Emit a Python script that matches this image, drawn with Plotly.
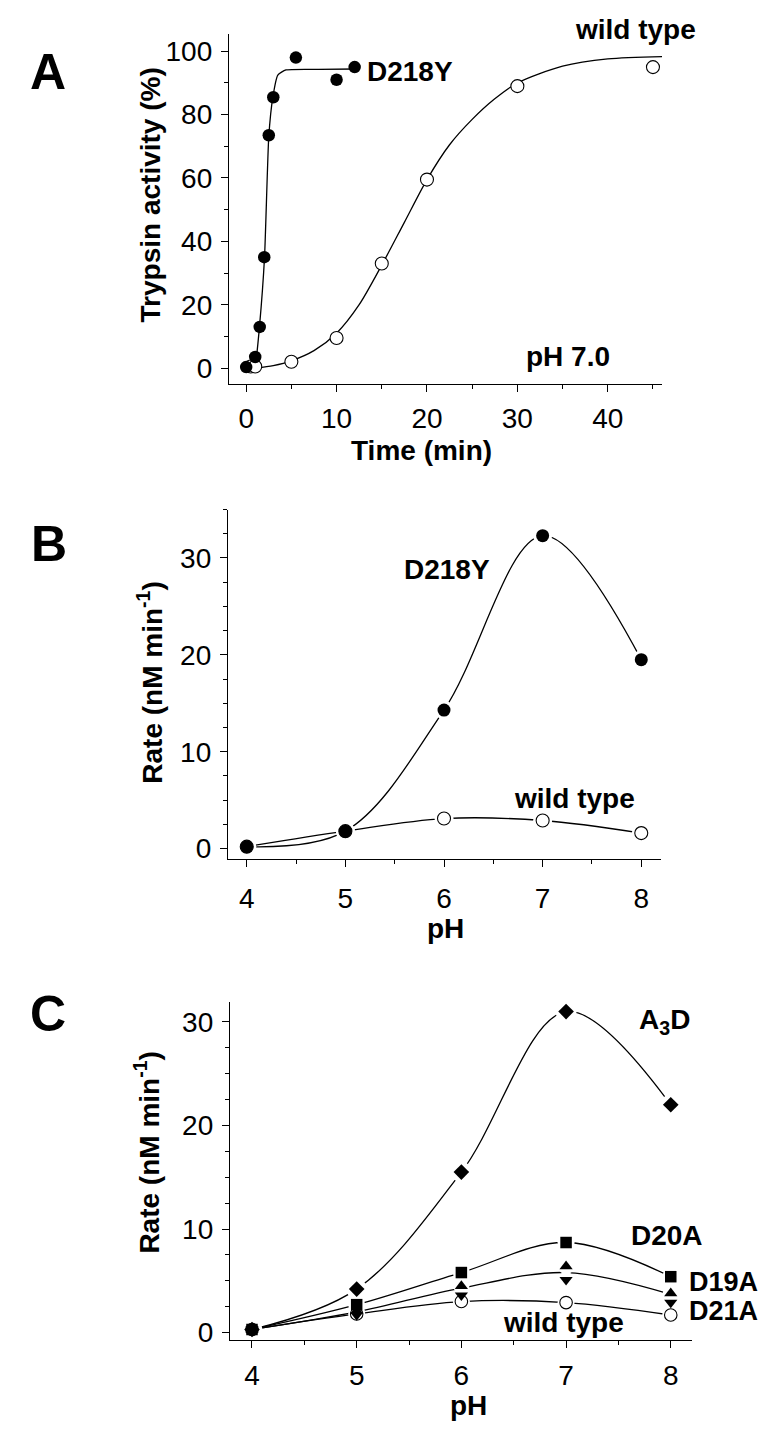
import plotly.graph_objects as go

W, H = 779, 1444
OFF = 8  # default page margin of the html body
FONT = "Liberation Sans, Arial, sans-serif"

# ---------------- Panel A data (time course, pH 7.0) ----------------
a_d218y_t = [0, 1, 1.5, 2, 2.5, 3, 5.5, 10, 12]
a_d218y_v = [0.3, 3.5, 13, 35, 73.5, 85.5, 98, 91, 95]
a_wt_t = [0.5, 1, 5, 10, 15, 20, 30, 45]
a_wt_v = [0.5, 0.5, 2, 9.5, 33, 59.5, 89, 95]
# fitted curves
a_d218y_fit_t = [0.8, 1.1, 1.47, 2.03, 2.5, 2.95, 3.5, 4.4, 8, 12]
a_d218y_fit_v = [0.3, 3.0, 13, 35, 73, 85.5, 92.5, 94.1, 94.3, 94.4]
a_wt_fit_t = [1.1, 3, 5, 7.5, 10, 12.5, 15, 17.5, 20, 22.5, 25, 27.5, 30, 35, 40, 47]
a_wt_fit_v = [0, 0.8, 2.3, 5.5, 11, 20, 32.5, 46, 59.5, 70.5, 78.5, 85, 90, 95.3, 97.6, 98.4]

# ---------------- Panel B data (pH profile) ----------------
ph = [4, 5, 6, 7, 8]
b_d218y = [0.2, 1.8, 14.3, 32.3, 19.5]
b_wt = [0.2, 1.8, 3.1, 2.9, 1.6]

# ---------------- Panel C data (pH profile) ----------------
c_a3d = [0.3, 4.2, 15.5, 31.0, 22.0]
c_d20a = [0.3, 2.7, 5.8, 8.7, 5.4]
c_d19a = [0.3, 2.1, 4.5, 6.4, 3.8]
c_d21a = [0.3, 1.7, 3.6, 5.1, 2.9]
c_wt = [0.3, 1.8, 3.0, 2.9, 1.7]
c_tri_fit = [0.3, 2.0, 4.3, 5.8, 3.7]  # single curve drawn between the triangles


def px(x):
    return (x - OFF) / W


def py(y):
    return 1 - (y - OFF) / H


fig = go.Figure()

LINE = dict(color="black", width=1.3)


def add_line(x, y, xa, ya, smoothing=1.0):
    fig.add_trace(go.Scatter(x=x, y=y, mode="lines", line=dict(LINE, shape="spline", smoothing=smoothing),
                             xaxis=xa, yaxis=ya, showlegend=False, hoverinfo="skip", cliponaxis=False))


def add_halo(x, y, xa, ya, size):
    fig.add_trace(go.Scatter(x=x, y=y, mode="markers", marker=dict(color="white", size=size, line=dict(width=0)),
                             xaxis=xa, yaxis=ya, showlegend=False, hoverinfo="skip", cliponaxis=False))


def add_markers(x, y, xa, ya, symbol, size, filled=True):
    if filled:
        m = dict(symbol=symbol, size=size, color="black", line=dict(width=0))
    else:
        m = dict(symbol=symbol, size=size, color="white", line=dict(color="black", width=1.1))
    fig.add_trace(go.Scatter(x=x, y=y, mode="markers", marker=m,
                             xaxis=xa, yaxis=ya, showlegend=False, cliponaxis=False))


# Panel A
add_line(a_d218y_fit_t, a_d218y_fit_v, "x", "y", 0.5)
add_line(a_wt_fit_t, a_wt_fit_v, "x", "y", 0.8)
add_markers(a_wt_t, a_wt_v, "x", "y", "circle", 13, filled=False)
add_markers(a_d218y_t, a_d218y_v, "x", "y", "circle", 12.5)

# Panel B
add_line(ph, b_wt, "x2", "y2")
add_line(ph, b_d218y, "x2", "y2")
add_halo(ph, b_wt, "x2", "y2", 19)
add_halo(ph, b_d218y, "x2", "y2", 19)
add_markers(ph, b_wt, "x2", "y2", "circle", 13, filled=False)
add_markers(ph, b_d218y, "x2", "y2", "circle", 13)

# Panel C
for arr in (c_a3d, c_d20a, c_tri_fit, c_wt):
    add_line(ph, arr, "x3", "y3")
add_halo(ph, c_a3d, "x3", "y3", 21)
add_halo(ph, c_d20a, "x3", "y3", 17)
add_halo(ph, c_d19a, "x3", "y3", 16)
add_halo(ph, c_d21a, "x3", "y3", 16)
add_halo(ph, c_wt, "x3", "y3", 17)
add_markers(ph, c_wt, "x3", "y3", "circle", 12.5, filled=False)
add_markers(ph, c_d21a, "x3", "y3", "triangle-down", 11.5)
add_markers(ph, c_d19a, "x3", "y3", "triangle-up", 11.5)
add_markers(ph, c_d20a, "x3", "y3", "square", 11.5)
add_markers(ph, c_a3d, "x3", "y3", "diamond", 12)

TICKFONT = dict(family=FONT, size=28, color="black")


def axis(domain, rng, dtick, minor, anchor, standoff):
    return dict(domain=domain, range=rng, dtick=dtick, tick0=0, showline=True, linecolor="black", linewidth=1.3,
                ticks="outside", ticklen=7, tickwidth=1.3, tickcolor="black", showgrid=False, zeroline=False,
                tickfont=TICKFONT, anchor=anchor, ticklabelstandoff=standoff,
                minor=dict(dtick=minor, tick0=0, ticks="outside", ticklen=4, tickwidth=1.2, tickcolor="black",
                           showgrid=False))


fig.update_layout(
    width=W, height=H, margin=dict(l=0, r=0, t=0, b=0), paper_bgcolor="white", plot_bgcolor="white",
    showlegend=False,
    xaxis=axis([px(229), px(662)], [-1.9, 46], 10, 5, "y", 2),
    yaxis=axis([py(386), py(34)], [-5, 105.5], 20, 10, "x", 3),
    xaxis2=axis([px(228), px(661)], [3.81, 8.2], 1, 0.5, "y2", 8),
    yaxis2=axis([py(863.3), py(512.3)], [-1.03, 35.0], 10, 2.5, "x2", 3),
    xaxis3=axis([px(230), px(691.7)], [3.79, 8.2], 1, 0.5, "y3", 3),
    yaxis3=axis([py(1347.7), py(1007.3)], [-0.74, 31.95], 10, 2.5, "x3", 3),
)


def ann(text, x, y, size=28, angle=0, xanchor="center"):
    fig.add_annotation(text=text, x=px(x), y=py(y), xref="paper", yref="paper", showarrow=False,
                       xanchor=xanchor, yanchor="middle", textangle=angle,
                       font=dict(family=FONT, size=size, color="black"))


# panel letters
ann("<b>A</b>", 47.5, 72, 50)
ann("<b>B</b>", 48.5, 547, 50)
ann("<b>C</b>", 47.5, 1020, 50)

# axis titles
ann("<b>Trypsin activity (%)</b>", 150, 196.5, 28, -90)
ann("<b>Time (min)</b>", 421, 453)
ann("<b>Rate (nM min<sup>-1</sup>)</b>", 150, 686.5, 28, -90)
ann("<b>pH</b>", 445, 934)
ann("<b>Rate (nM min<sup>-1</sup>)</b>", 147, 1159, 28, -90)
ann("<b>pH</b>", 468, 1413)

# series labels
ann("<b>D218Y</b>", 365, 72, xanchor="left")
ann("<b>wild type</b>", 635, 30)
ann("<b>pH 7.0</b>", 568, 358)
ann("<b>D218Y</b>", 447, 573)
ann("<b>wild type</b>", 574, 803)
ann("<b>A<sub>3</sub>D</b>", 637, 1027, xanchor="left")
ann("<b>D20A</b>", 667, 1242)
ann("<b>D19A</b>", 687, 1289, 27, xanchor="left")
ann("<b>D21A</b>", 687, 1318, 27, xanchor="left")
ann("<b>wild type</b>", 563, 1330)

fig.write_html("out.html")
